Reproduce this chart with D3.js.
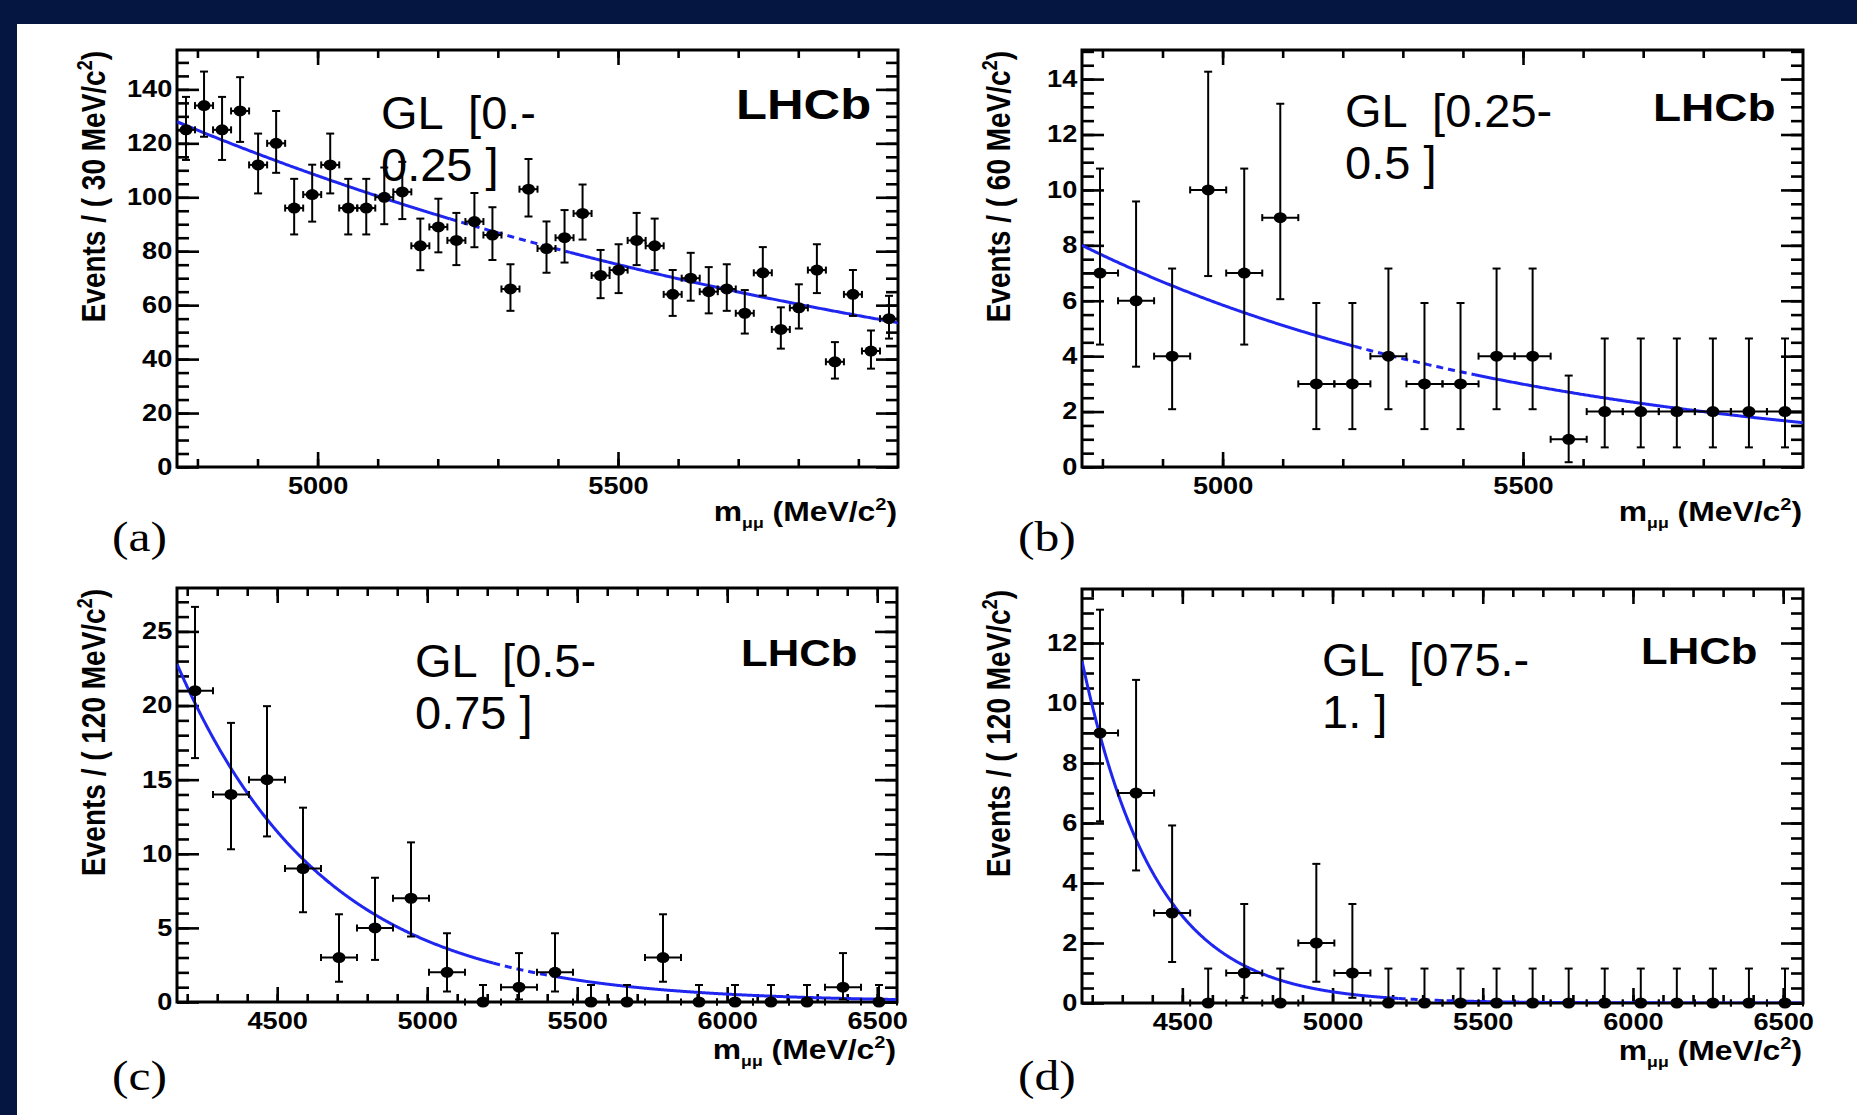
<!DOCTYPE html>
<meta charset="utf-8">
<style>
body { margin: 0; background: #051640; }
svg { display: block; }
</style>
<svg width="1857" height="1115"></svg>
<script src="https://cdn.jsdelivr.net/npm/d3@7"></script>
<script>

// event counts per bin
var countsA = [125, 134, 125, 132, 112, 120, 96, 101, 112, 96, 96, 100, 102, 82, 89, 84, 91, 86, 66, 103,
               81, 85, 94, 71, 73, 84, 82, 64, 70, 65, 66, 57, 72, 51, 59, 73, 39, 64, 43, 55];
var countsB = [7, 6, 4, 10, 7, 9, 3, 3, 4, 3, 3, 4, 4, 1, 2, 2, 2, 2, 2, 2];
var countsC = [21, 14, 15, 9, 3, 5, 7, 2, 0, 1, 2, 0, 0, 3, 0, 0, 0, 0, 1, 0];
var countsD = [9, 7, 3, 0, 1, 0, 2, 1, 0, 0, 0, 0, 0, 0, 0, 0, 0, 0, 0, 0];

// mass windows (MeV/c2) and bin widths
var massRangeAB = [4766, 5966];
var massRangeCD = [4166, 6566];
var binWidths = [30, 60, 120, 120];
var yMaxes = [154.6, 15.05, 27.93, 13.8];

// tick labels
var xTicksAB = [5000, 5500];
var xTicksCD = [4500, 5000, 5500, 6000, 6500];
var yTicksA = [0, 20, 40, 60, 80, 100, 120, 140];
var yTicksB = [0, 2, 4, 6, 8, 10, 12, 14];
var yTicksC = [0, 5, 10, 15, 20, 25];
var yTicksD = [0, 2, 4, 6, 8, 10, 12];
var yMinorSteps = [5, 0.5, 1, 0.5];

// exponential background fit: value at left edge, slope (1/MeV)
var fitAtEdge = [128, 8.0, 22.8, 11.4];
var fitSlope = [7.27e-4, 1.341e-3, 2.05e-3, 4.1e-3];
var blindWindow = [5220, 5420];

var binLabels = ["30", "60", "120", "120"];
var annotations = [["GL  [0.-", "0.25 ]"], ["GL  [0.25-", "0.5 ]"], ["GL  [0.5-", "0.75 ]"], ["GL  [075.-", "1. ]"]];
var panelNames = ["(a)", "(b)", "(c)", "(d)"];

var panels = [
  { counts: countsA, range: massRangeAB, xTicks: xTicksAB, yTicks: yTicksA,
    box: [177, 50, 898, 467], note: [381, 129], lhcb: [736, 119, 43], titleDy: 54 },
  { counts: countsB, range: massRangeAB, xTicks: xTicksAB, yTicks: yTicksB,
    box: [1082, 50, 1803, 467], note: [1345, 127], lhcb: [1653, 121, 39], titleDy: 54 },
  { counts: countsC, range: massRangeCD, xTicks: xTicksCD, yTicks: yTicksC,
    box: [177, 588, 897, 1002], note: [415, 677], lhcb: [741, 666, 37], titleDy: 57 },
  { counts: countsD, range: massRangeCD, xTicks: xTicksCD, yTicks: yTicksD,
    box: [1082, 589, 1803, 1003], note: [1322, 676], lhcb: [1641, 664, 37], titleDy: 57 }
];

var svg = d3.select("svg");
var stretch = 1.18;

svg.append("rect").attr("x", 17).attr("y", 24).attr("width", 1857 - 17).attr("height", 1115 - 24)
  .attr("fill", "#fff");

// central Poisson interval, as used for the data points
function poisCdf(n, mu) {
  var term = Math.exp(-mu), sum = term;
  for (var k = 1; k <= n; k++) { term *= mu / k; sum += term; }
  return sum;
}
function poisInterval(n) {
  var a = 0.158655;
  if (n === 0) return [0, -Math.log(2 * a)];
  var lo = 0, hi = n, m;
  for (var i = 0; i < 60; i++) { m = (lo + hi) / 2; if (1 - poisCdf(n - 1, m) < a) lo = m; else hi = m; }
  var low = (lo + hi) / 2;
  lo = n; hi = n + 10 * Math.sqrt(n) + 10;
  for (var j = 0; j < 60; j++) { m = (lo + hi) / 2; if (poisCdf(n, m) > a) lo = m; else hi = m; }
  return [low, (lo + hi) / 2];
}

panels.forEach(function(p, pi) {
  var x0 = p.box[0], y0 = p.box[1], w = p.box[2] - p.box[0], h = p.box[3] - p.box[1];
  var g = svg.append("g").attr("transform", "translate(" + x0 + "," + y0 + ")");
  var x = d3.scaleLinear().domain(p.range).range([0, w]);
  var y = d3.scaleLinear().domain([0, yMaxes[pi]]).range([h, 0]);
  var bw = binWidths[pi];

  var xMinor = d3.range(Math.ceil(p.range[0] / 100) * 100, p.range[1], 100);
  var yMinor = d3.range(0, yMaxes[pi], yMinorSteps[pi]);

  function style(sel) {
    sel.select(".domain").remove();
    sel.selectAll("line").attr("stroke", "#000").attr("stroke-width", 2.6);
    sel.selectAll("text").attr("font-family", "Liberation Sans, Arial, sans-serif")
      .attr("font-weight", "bold").attr("font-size", 23).attr("fill", "#000");
  }

  // minor ticks on all four sides
  g.append("g").attr("transform", "translate(0," + h + ")")
    .call(d3.axisBottom(x).tickValues(xMinor).tickSize(-8).tickFormat("")).call(style);
  g.append("g").call(d3.axisTop(x).tickValues(xMinor).tickSize(-8).tickFormat("")).call(style);
  g.append("g").call(d3.axisLeft(y).tickValues(yMinor).tickSize(-12).tickFormat("")).call(style);
  g.append("g").attr("transform", "translate(" + w + ",0)")
    .call(d3.axisRight(y).tickValues(yMinor).tickSize(-12).tickFormat("")).call(style);

  // major ticks with labels
  var xAx = g.append("g").attr("transform", "translate(0," + h + ")")
    .call(d3.axisBottom(x).tickValues(p.xTicks).tickSize(-15).tickPadding(11).tickFormat(d3.format("d")))
    .call(style);
  xAx.selectAll("text").attr("transform", "scale(" + stretch + ",1)");
  g.append("g").call(d3.axisTop(x).tickValues(p.xTicks).tickSize(-15).tickFormat("")).call(style);
  var yAx = g.append("g")
    .call(d3.axisLeft(y).tickValues(p.yTicks).tickSize(-22).tickPadding(4).tickFormat(d3.format("d")))
    .call(style);
  yAx.selectAll("text").attr("transform", "scale(" + stretch + ",1)");
  g.append("g").attr("transform", "translate(" + w + ",0)")
    .call(d3.axisRight(y).tickValues(p.yTicks).tickSize(-22).tickFormat("")).call(style);

  // frame
  g.append("rect").attr("width", w).attr("height", h)
    .attr("fill", "none").attr("stroke", "#000").attr("stroke-width", 3);

  // fit curve, dashed inside the blinded window
  g.append("clipPath").attr("id", "clip" + pi).append("rect").attr("width", w).attr("height", h);
  var fit = function(m) { return fitAtEdge[pi] * Math.exp(-fitSlope[pi] * (m - p.range[0])); };
  var line = d3.line().x(function(m) { return x(m); }).y(function(m) { return y(fit(m)); });
  var pieces = [[p.range[0], blindWindow[0], null], [blindWindow[0], blindWindow[1], "7,5"],
                [blindWindow[1], p.range[1], null]];
  pieces.forEach(function(s) {
    var pts = d3.range(s[0], s[1], 2).concat([s[1]]);
    g.append("path").attr("d", line(pts)).attr("fill", "none")
      .attr("stroke", "#1f26f0").attr("stroke-width", 3)
      .attr("stroke-dasharray", s[2]).attr("clip-path", "url(#clip" + pi + ")");
  });

  // data points with error bars
  var pts = g.append("g");
  p.counts.forEach(function(n, i) {
    var c = p.range[0] + (i + 0.5) * bw;
    var cx = x(c), cy = y(n), err = poisInterval(n);
    var xl = x(c - bw / 2), xr = x(c + bw / 2), yl = y(err[0]), yu = y(err[1]);
    var e = pts.append("g").attr("stroke", "#000").attr("stroke-width", 2);
    e.append("line").attr("x1", cx).attr("x2", cx).attr("y1", yl).attr("y2", yu);
    e.append("line").attr("x1", cx - 4).attr("x2", cx + 4).attr("y1", yu).attr("y2", yu);
    e.append("line").attr("x1", cx - 4).attr("x2", cx + 4).attr("y1", yl).attr("y2", yl);
    e.append("line").attr("x1", xl).attr("x2", xr).attr("y1", cy).attr("y2", cy);
    e.append("line").attr("x1", xl).attr("x2", xl).attr("y1", cy - 3.5).attr("y2", cy + 3.5);
    e.append("line").attr("x1", xr).attr("x2", xr).attr("y1", cy - 3.5).attr("y2", cy + 3.5);
    pts.append("ellipse").attr("cx", cx).attr("cy", cy).attr("rx", 6.5).attr("ry", 5.5).attr("fill", "#000");
  });

  // axis titles
  var yt = svg.append("text")
    .attr("transform", "translate(" + (x0 - 72) + "," + (y0 + 1) + ") rotate(-90) scale(1," + stretch + ")")
    .attr("text-anchor", "end").attr("font-family", "Liberation Sans, Arial, sans-serif")
    .attr("font-weight", "bold").attr("font-size", 28);
  yt.append("tspan").text("Events / ( " + binLabels[pi] + " MeV/c");
  yt.append("tspan").attr("font-size", 18).attr("dy", -11).text("2");
  yt.append("tspan").attr("dy", 11).text(")");

  var xt = svg.append("text")
    .attr("transform", "translate(" + (x0 + w - 1) + "," + (y0 + h + p.titleDy) + ") scale(" + stretch + ",1)")
    .attr("text-anchor", "end").attr("font-family", "Liberation Sans, Arial, sans-serif")
    .attr("font-weight", "bold").attr("font-size", 27);
  xt.append("tspan").text("m");
  xt.append("tspan").attr("font-size", 15).attr("dy", 7).text("μμ");
  xt.append("tspan").attr("dy", -7).text(" (MeV/c");
  xt.append("tspan").attr("font-size", 17).attr("dy", -11).text("2");
  xt.append("tspan").attr("dy", 11).text(")");

  // LHCb tag
  svg.append("text").attr("transform", "translate(" + p.lhcb[0] + "," + p.lhcb[1] + ") scale(" + stretch + ",1)")
    .attr("font-family", "Liberation Sans, Arial, sans-serif").attr("font-weight", "bold")
    .attr("font-size", p.lhcb[2]).text("LHCb");

  // bin annotation
  annotations[pi].forEach(function(t, k) {
    svg.append("text").attr("x", p.note[0]).attr("y", p.note[1] + k * 52)
      .attr("font-family", "Liberation Sans, Arial, sans-serif").attr("font-size", 47)
      .style("white-space", "pre").text(t);
  });

  // panel letter
  svg.append("text")
    .attr("transform", "translate(" + (pi % 2 === 0 ? 112 : 1018) + "," + (pi < 2 ? 551 : 1090) + ") scale(" + stretch + ",1)")
    .attr("font-family", "Liberation Serif, DejaVu Serif, serif").attr("font-size", 42).text(panelNames[pi]);
});

</script>
